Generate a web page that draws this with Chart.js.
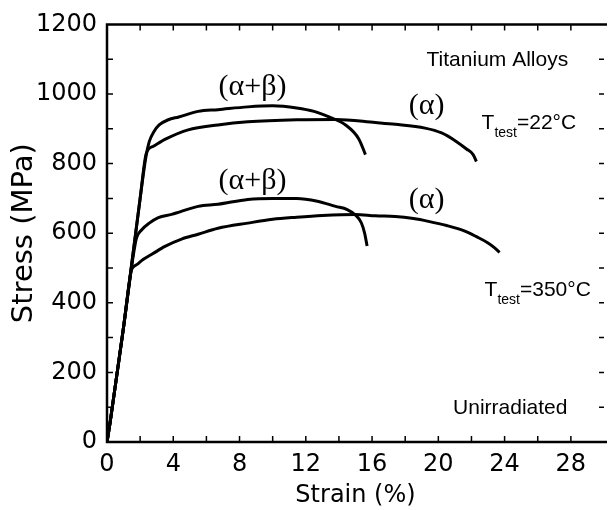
<!DOCTYPE html>
<html>
<head>
<meta charset="utf-8">
<script src="https://cdn.jsdelivr.net/npm/chart.js@4"></script>
<style>
  body { margin: 0; background: #fff; }
  #chart { display: block; }
</style>
</head>
<body>
<canvas id="chart" width="612" height="510"></canvas>
<script>
// Stress-strain curves
// (alpha+beta), 22 C
const strainAB22 = [0, 0.2, 1.0, 2.0, 2.35, 2.55, 2.85, 3.15, 3.7, 4.33, 5.5, 6.7, 8.5, 10, 11.45, 12.5, 13.4, 14.4, 15.2, 15.6];
const stressAB22 = [0, 60, 330, 700, 820, 863, 893, 911, 926, 934, 950, 955, 963, 966, 960, 950, 934, 911, 871, 826];
// (alpha), 22 C
const strainA22 = [0, 0.2, 1.0, 2.0, 2.37, 2.8, 3.56, 4.9, 6.7, 8.5, 11.45, 13.8, 16.2, 17.4, 19.2, 20.2, 21.1, 21.7, 22.1, 22.3];
const stressA22 = [0, 60, 330, 700, 829, 850, 871, 897, 911, 920, 926, 927, 918, 913, 902, 888, 863, 842, 826, 806];
// (alpha+beta), 350 C
const strainAB350 = [0, 0.2, 1.0, 1.6, 1.78, 2.1, 2.55, 3.1, 3.9, 5.5, 6.7, 8.5, 10, 11.45, 12.7, 13.8, 14.5, 15.0, 15.35, 15.55, 15.7];
const stressAB350 = [0, 60, 330, 540, 586, 610, 629, 645, 654, 677, 683, 697, 700, 700, 692, 677, 668, 652, 630, 600, 563];
// (alpha), 350 C
const strainA350 = [0, 0.2, 1.0, 1.45, 1.54, 1.84, 2.2, 2.73, 3.5, 4.5, 5.5, 6.7, 8.5, 10, 11.45, 13, 15, 16.2, 17.4, 18.5, 19.4, 20.5, 21.6, 22.3, 23.0, 23.4, 23.7];
const stressA350 = [0, 60, 330, 490, 500, 511, 525, 540, 562, 583, 597, 614, 629, 640, 646, 651, 654, 650, 648, 642, 634, 622, 606, 590, 572, 558, 545];

// axis ticks
const xLabelTicks = [0, 4, 8, 12, 16, 20, 24, 28];
const yLabelTicks = [0, 200, 400, 600, 800, 1000, 1200];

function toPoints(xs, ys) {
    return xs.map((x, i) => ({ x: x, y: ys[i] }));
}

// text notes placed in data coordinates (x = strain, y = stress at baseline)
const notes = [
    { text: 'Titanium Alloys', x: 19.29, y: 1080, font: '21px "Liberation Sans"', align: 'left' },
    { text: '(\u03B1+\u03B2)', x: 8.78, y: 997, font: '30px "Liberation Serif"', align: 'center' },
    { text: '(\u03B1+\u03B2)', x: 8.78, y: 726, font: '30px "Liberation Serif"', align: 'center' },
    { text: '(\u03B1)', x: 19.29, y: 943, font: '30px "Liberation Serif"', align: 'center' },
    { text: '(\u03B1)', x: 19.29, y: 671, font: '30px "Liberation Serif"', align: 'center' },
    { text: 'Unirradiated', x: 20.89, y: 80, font: '21px "Liberation Sans"', align: 'left' }
];
const tempNotes = [
    { temp: '=22\u00B0C', x: 22.61, y: 900 },
    { temp: '=350\u00B0C', x: 22.79, y: 420 }
];

// frame with inward ticks, plus the text notes
const framePlugin = {
    id: 'frame',
    afterDatasetsDraw(chart) {
        const { ctx, chartArea: a, scales: { x, y } } = chart;
        ctx.save();
        ctx.strokeStyle = '#000';
        ctx.lineWidth = 2.5;
        ctx.beginPath();
        ctx.moveTo(a.right + 3, a.top);
        ctx.lineTo(a.left, a.top);
        ctx.lineTo(a.left, a.bottom);
        ctx.lineTo(a.right + 3, a.bottom);
        ctx.stroke();

        ctx.lineWidth = 1.5;
        ctx.beginPath();
        for (let v = 2; v < 30; v += 2) {
            const px = x.getPixelForValue(v);
            ctx.moveTo(px, a.bottom);
            ctx.lineTo(px, a.bottom - 6);
            ctx.moveTo(px, a.top);
            ctx.lineTo(px, a.top + 6);
        }
        for (let v = 100; v < 1200; v += 100) {
            const py = y.getPixelForValue(v);
            ctx.moveTo(a.left, py);
            ctx.lineTo(a.left + 6, py);
            ctx.moveTo(a.right, py);
            ctx.lineTo(a.right - 5, py);
        }
        ctx.stroke();

        ctx.fillStyle = '#000';
        ctx.textBaseline = 'alphabetic';
        notes.forEach(n => {
            ctx.font = n.font;
            ctx.textAlign = n.align;
            ctx.fillText(n.text, x.getPixelForValue(n.x), y.getPixelForValue(n.y));
        });

        ctx.textAlign = 'left';
        tempNotes.forEach(n => {
            let px = x.getPixelForValue(n.x);
            const py = y.getPixelForValue(n.y);
            ctx.font = '21px "Liberation Sans"';
            ctx.fillText('T', px, py);
            px += ctx.measureText('T').width;
            ctx.font = '14px "Liberation Sans"';
            ctx.fillText('test', px, py + 8);
            px += ctx.measureText('test').width;
            ctx.font = '21px "Liberation Sans"';
            ctx.fillText(n.temp, px, py);
        });
        ctx.restore();
    }
};

const lineStyle = {
    borderColor: '#000',
    borderWidth: 3,
    pointRadius: 0,
    fill: false,
    cubicInterpolationMode: 'monotone'
};

new Chart(document.getElementById('chart'), {
    type: 'line',
    data: {
        datasets: [
            { label: '(a+b) 22C', data: toPoints(strainAB22, stressAB22), ...lineStyle },
            { label: '(a) 22C', data: toPoints(strainA22, stressA22), ...lineStyle },
            { label: '(a+b) 350C', data: toPoints(strainAB350, stressAB350), ...lineStyle },
            { label: '(a) 350C', data: toPoints(strainA350, stressA350), ...lineStyle }
        ]
    },
    options: {
        responsive: false,
        animation: false,
        layout: { padding: { top: 23, right: 0, left: 0, bottom: 0 } },
        plugins: {
            legend: { display: false },
            tooltip: { enabled: false }
        },
        scales: {
            x: {
                type: 'linear',
                min: 0,
                max: 30,
                border: { display: false },
                grid: { display: false, drawTicks: false },
                ticks: {
                    stepSize: 2,
                    autoSkip: false,
                    maxRotation: 0,
                    padding: 8,
                    color: '#000',
                    font: { family: 'DejaVu Sans', size: 24 },
                    callback: function(value) {
                        return xLabelTicks.includes(value) ? String(value) : '';
                    }
                },
                title: {
                    display: true,
                    text: 'Strain (%)',
                    color: '#000',
                    font: { family: 'DejaVu Sans', size: 24 },
                    padding: { top: 0, bottom: 0 }
                },
                afterFit: function(scale) { scale.height = 68; }
            },
            y: {
                min: 0,
                max: 1200,
                border: { display: false },
                grid: { display: false, drawTicks: false },
                ticks: {
                    stepSize: 200,
                    padding: 10,
                    color: '#000',
                    font: { family: 'DejaVu Sans', size: 24 },
                    callback: function(value) {
                        return yLabelTicks.includes(value) ? String(value) : '';
                    }
                },
                title: {
                    display: true,
                    text: 'Stress (MPa)',
                    color: '#000',
                    font: { family: 'DejaVu Sans', size: 29 },
                    padding: { top: 7, bottom: 0 }
                },
                afterFit: function(scale) { scale.width = 107; }
            }
        }
    },
    plugins: [framePlugin]
});
</script>
</body>
</html>
